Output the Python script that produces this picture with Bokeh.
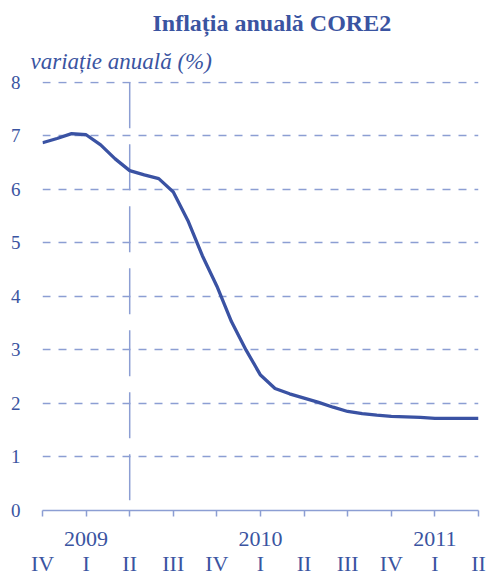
from bokeh.plotting import figure
from bokeh.models import LinearAxis, FixedTicker, Title, Range1d
from bokeh.embed import file_html
from bokeh.resources import INLINE

# monthly data, Oct 2008 .. Apr 2011
luni = ["oct08", "nov08", "dec08", "ian09", "feb09", "mar09", "apr09", "mai09", "iun09",
        "iul09", "aug09", "sep09", "oct09", "nov09", "dec09", "ian10", "feb10", "mar10",
        "apr10", "mai10", "iun10", "iul10", "aug10", "sep10", "oct10", "nov10", "dec10",
        "ian11", "feb11", "mar11", "apr11"]
core2 = [6.87, 6.95, 7.04, 7.02, 6.83, 6.57, 6.35, 6.27, 6.20,
         5.95, 5.42, 4.76, 4.19, 3.53, 3.00, 2.53, 2.28, 2.18,
         2.10, 2.02, 1.93, 1.85, 1.81, 1.78, 1.76, 1.75, 1.74,
         1.72, 1.72, 1.72, 1.72]

trim_pos = [0, 3, 6, 9, 12, 15, 18, 21, 24, 27, 30]
trim_labels = ["IV", "I", "II", "III", "IV", "I", "II", "III", "IV", "I", "II"]
ani_pos = [3, 15, 27]
ani_labels = ["2009", "2010", "2011"]
y_ticks = [0, 1, 2, 3, 4, 5, 6, 7, 8]
marker_x = 6  # trimestrul II 2009

FONT = "Liberation Serif"
TXT = "#3A54A1"
LINE = "#3A52A3"
GRID = "#8C9ED3"

x = list(range(len(luni)))

p = figure(width=486, height=578, output_backend="svg", toolbar_location=None,
           x_range=Range1d(trim_pos[0], trim_pos[-1]), y_range=Range1d(y_ticks[0], y_ticks[-1] + 0.015),
           x_axis_location=None, min_border_left=42, min_border_right=8,
           min_border_top=81, min_border_bottom=67)
p.outline_line_color = None
p.background_fill_color = "white"
p.border_fill_color = "white"

# titles
sub = Title(text="variație anuală (%)", align="left", offset=-12,
            text_font=FONT, text_font_style="italic", text_font_size="23px",
            text_color=TXT, standoff=15)
p.add_layout(sub, "above")
tit = Title(text="Inflația anuală CORE2", align="left", offset=110,
            text_font=FONT, text_font_style="bold", text_font_size="24px",
            text_color=TXT, standoff=8)
p.add_layout(tit, "above")

# y axis
ya = p.yaxis[0]
ya.ticker = FixedTicker(ticks=y_ticks)
ya.axis_line_color = None
ya.major_tick_line_color = None
ya.minor_tick_line_color = None
ya.major_label_text_font = FONT
ya.major_label_text_font_size = "19px"
ya.major_label_text_color = TXT
ya.major_label_standoff = 16

p.ygrid.ticker = FixedTicker(ticks=y_ticks[1:])
p.ygrid.grid_line_color = GRID
p.ygrid.grid_line_width = 1.5
p.ygrid.grid_line_dash = "8 8"
p.xgrid.grid_line_color = None

# x axis with years
ax_y = LinearAxis(ticker=FixedTicker(ticks=trim_pos))
ax_y.major_label_overrides = {t: "" for t in trim_pos}
ax_y.major_label_overrides.update({pos: lab for pos, lab in zip(ani_pos, ani_labels)})
ax_y.axis_line_color = GRID
ax_y.axis_line_width = 1.5
ax_y.major_tick_line_color = GRID
ax_y.major_tick_line_width = 1.5
ax_y.major_tick_out = 6
ax_y.major_tick_in = 0
ax_y.minor_tick_line_color = None
ax_y.major_label_text_font = FONT
ax_y.major_label_text_font_size = "22px"
ax_y.major_label_text_color = TXT
ax_y.major_label_standoff = 15
p.add_layout(ax_y, "below")

# x axis with quarters
ax_q = LinearAxis(ticker=FixedTicker(ticks=trim_pos))
ax_q.major_label_overrides = {pos: lab for pos, lab in zip(trim_pos, trim_labels)}
ax_q.axis_line_color = None
ax_q.major_tick_line_color = None
ax_q.minor_tick_line_color = None
ax_q.major_label_text_font = FONT
ax_q.major_label_text_font_size = "22px"
ax_q.major_label_text_color = TXT
ax_q.major_label_standoff = -4
p.add_layout(ax_q, "below")

# vertical marker
p.segment(x0=[marker_x], y0=[y_ticks[-1]], x1=[marker_x], y1=[y_ticks[0]],
          line_color=GRID, line_width=1.5, line_dash="46 16")

p.line(x, core2, line_color=LINE, line_width=3.3)

open("out.html", "w").write(file_html(p, INLINE))
